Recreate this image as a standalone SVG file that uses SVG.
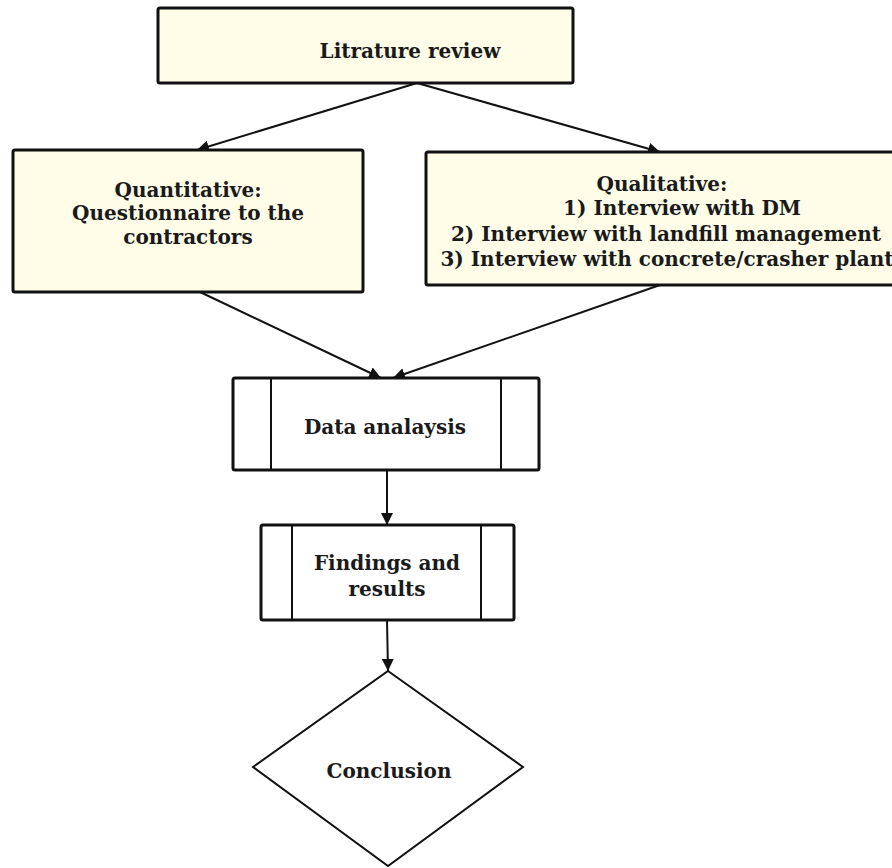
<svg xmlns="http://www.w3.org/2000/svg" width="892" height="868" viewBox="0 0 892 868">
<style>
.box{fill:#fffde8;stroke:#111;stroke-width:3}
.pbox{fill:#fff;stroke:#111;stroke-width:3}
.inner{stroke:#111;stroke-width:2}
.t{font-family:"DejaVu Serif","Liberation Serif",serif;font-weight:bold;font-size:20px;fill:#1a1a1a;text-anchor:middle}
.c{stroke:#111;stroke-width:2;fill:none;marker-end:url(#ah)}
</style>
<defs>
<marker id="ah" viewBox="0 0 10 10" refX="10" refY="5" markerWidth="6" markerHeight="6" orient="auto" markerUnits="strokeWidth">
<path d="M0,0 L10,5 L0,10 z" fill="#111"/>
</marker>
</defs>
<rect width="892" height="868" fill="#fff"/>
<g id="connectors">
<line class="c" x1="417" y1="83" x2="197" y2="150"/>
<line class="c" x1="417" y1="83" x2="660" y2="152"/>
<line class="c" x1="200" y1="292" x2="381" y2="378"/>
<line class="c" x1="660" y1="285" x2="393" y2="378"/>
<line class="c" x1="387" y1="470" x2="387" y2="525"/>
<line class="c" x1="387" y1="620" x2="388" y2="671"/>
</g>
<g id="literature">
<rect class="box" x="158" y="8" width="415" height="75" rx="2"/>
<text class="t" x="410" y="58" font-size="21.5">Litrature review</text>
</g>
<g id="quantitative">
<rect class="box" x="13" y="150" width="350" height="142" rx="2"/>
<text class="t" x="188" y="197">Quantitative:</text>
<text class="t" x="188" y="220">Questionnaire to the</text>
<text class="t" x="188" y="244">contractors</text>
</g>
<g id="qualitative">
<rect class="box" x="426" y="152" width="480" height="133" rx="2"/>
<text class="t" x="662" y="191">Qualitative:</text>
<text class="t" x="682" y="215">1) Interview with DM</text>
<text class="t" x="666" y="241">2) Interview with landfill management</text>
<text class="t" x="667" y="266" font-size="19.4">3) Interview with concrete/crasher plant</text>
</g>
<g id="data-analysis">
<rect class="pbox" x="233" y="378" width="306" height="92" rx="2"/>
<line class="inner" x1="271" y1="378" x2="271" y2="470"/>
<line class="inner" x1="501" y1="378" x2="501" y2="470"/>
<text class="t" x="385" y="434">Data analaysis</text>
</g>
<g id="findings">
<rect class="pbox" x="261" y="525" width="253" height="95" rx="2"/>
<line class="inner" x1="292" y1="525" x2="292" y2="620"/>
<line class="inner" x1="481" y1="525" x2="481" y2="620"/>
<text class="t" x="387" y="570">Findings and</text>
<text class="t" x="387" y="596">results</text>
</g>
<g id="conclusion">
<polygon points="388,671 523,767 388,866 253,767" fill="#fff" stroke="#111" stroke-width="2"/>
<text class="t" x="389" y="778">Conclusion</text>
</g>
</svg>
